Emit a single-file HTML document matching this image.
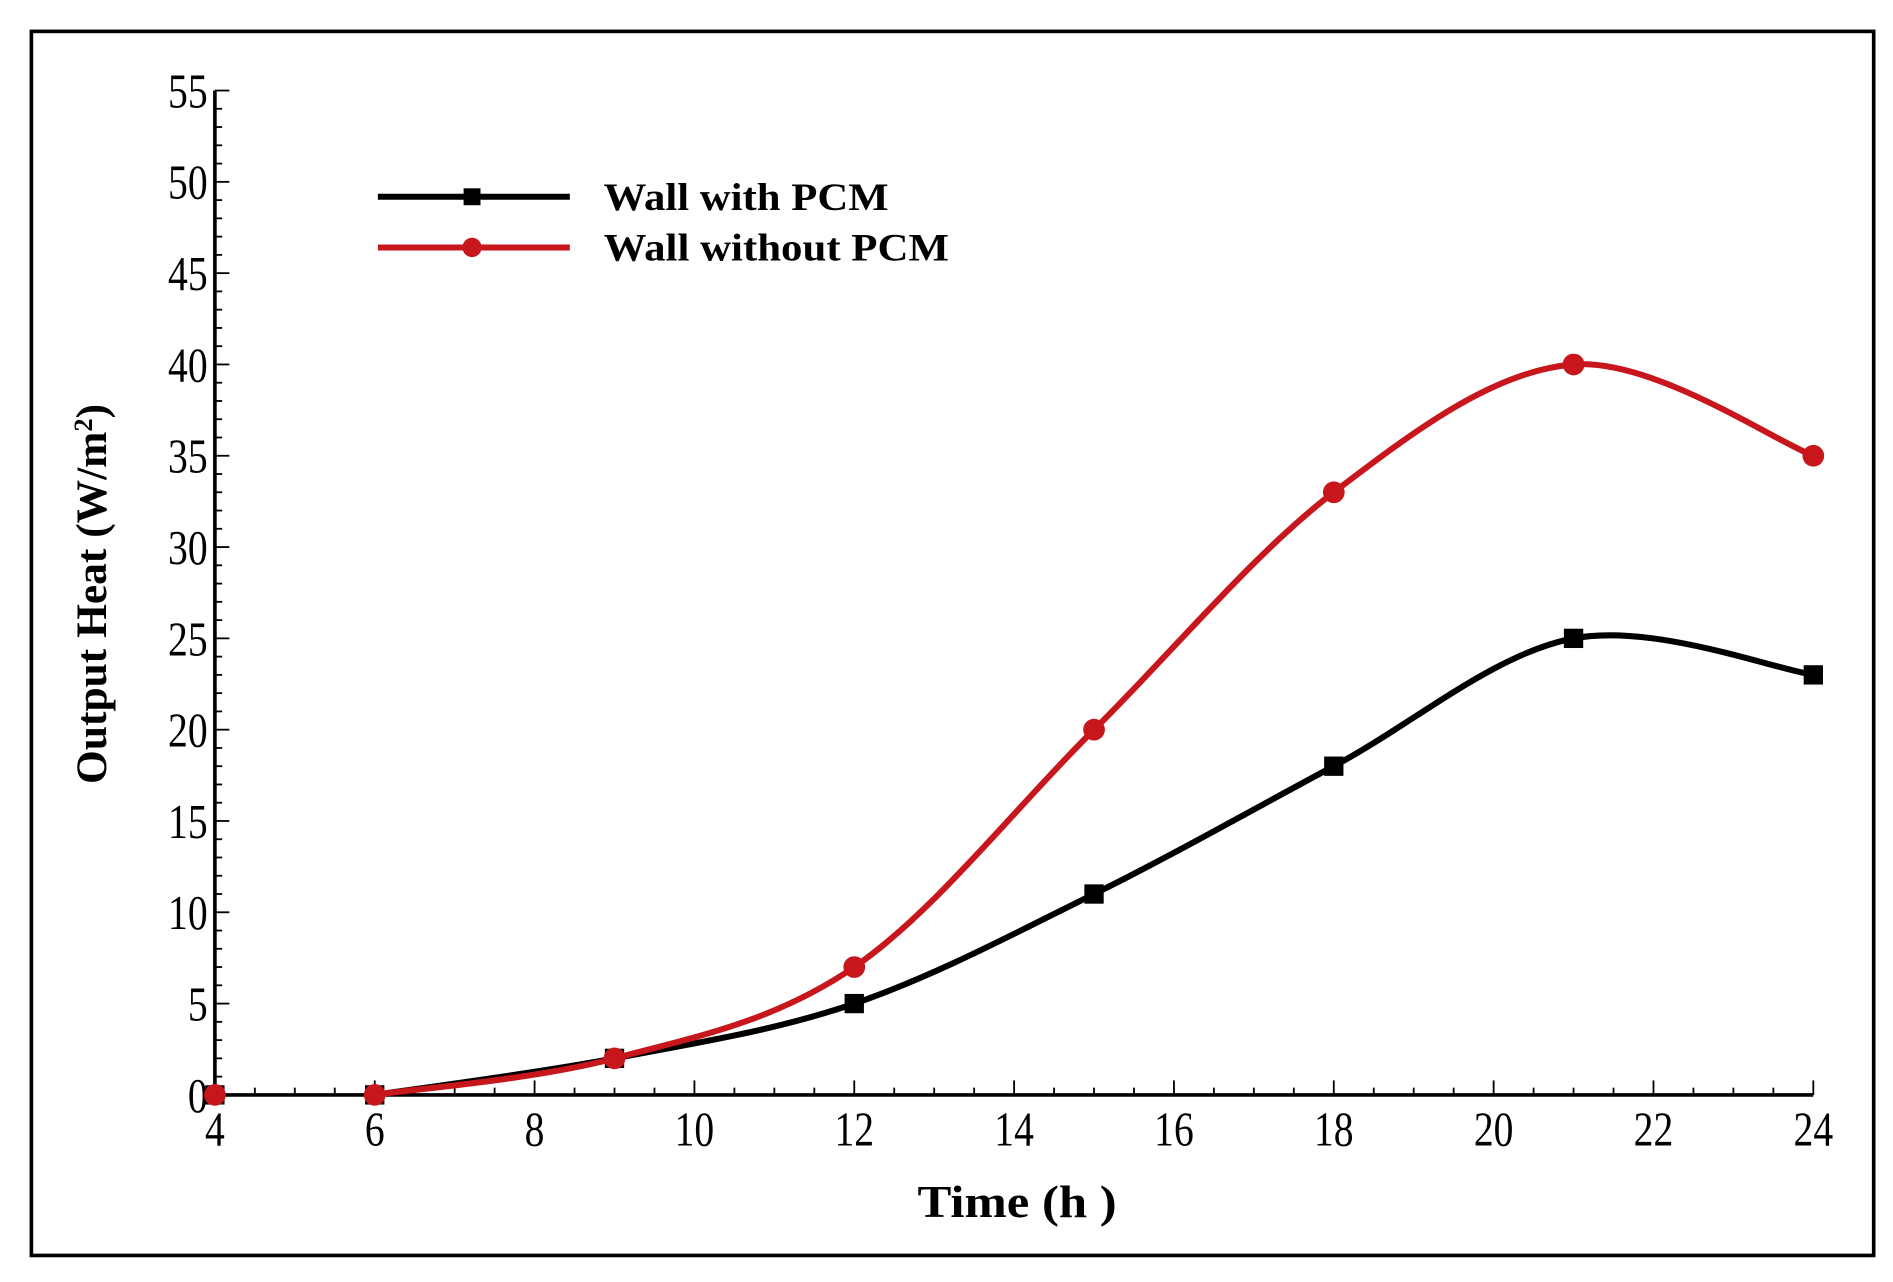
<!DOCTYPE html>
<html><head><meta charset="utf-8"><style>
html,body{margin:0;padding:0;background:#fff}
svg{display:block}
text{font-family:"Liberation Serif",serif}
</style></head><body>
<svg id="chart" width="1893" height="1282" viewBox="0 0 1568 1062" preserveAspectRatio="none">
<rect x="26" y="26" width="1526" height="1014" fill="#fff" stroke="#000" stroke-width="3"/>
<g id="axes"></g>
<g id="series"></g>
<text x="760" y="1008" font-size="38" font-weight="bold" textLength="165" lengthAdjust="spacingAndGlyphs">Time (h  )</text>
<text transform="translate(88,492) rotate(-90)" font-size="36" font-weight="bold" text-anchor="middle">Output Heat (W/m<tspan dy="-12" font-size="22">2</tspan><tspan dy="12">)</tspan></text>
<g>
<g>
<line x1="313" y1="163" x2="472" y2="163" stroke="#000" stroke-width="5"/>
<rect x="384" y="156" width="14" height="14" fill="#000"/>
<text x="500" y="174" font-size="32" font-weight="bold" textLength="236" lengthAdjust="spacingAndGlyphs">Wall with PCM</text>
</g>
<g>
<line x1="313" y1="205" x2="472" y2="205" stroke="#c8161d" stroke-width="5"/>
<circle cx="391" cy="205" r="8" fill="#c8161d"/>
<text x="500" y="216" font-size="32" font-weight="bold" textLength="286" lengthAdjust="spacingAndGlyphs">Wall without PCM</text>
</g>
</g>
</svg>
<script>
const hours = [4, 6, 9, 12, 15, 18, 21, 24];
const withPCM = [0, 0, 2, 5, 11, 18, 25, 23];
const withoutPCM = [0, 0, 2, 7, 20, 33, 40, 35];
const xTickLabels = [4, 6, 8, 10, 12, 14, 16, 18, 20, 22, 24];
const yTickLabels = [0, 5, 10, 15, 20, 25, 30, 35, 40, 45, 50, 55];

const NS = "http://www.w3.org/2000/svg";
const X0 = 178, X1 = 1502, Y0 = 907, Y1 = 75;
const xs = v => X0 + (v - 4) / 20 * (X1 - X0);
const ys = v => Y0 - v / 55 * (Y0 - Y1);
function mk(tag, attrs, parent) {
  const e = document.createElementNS(NS, tag);
  for (const k in attrs) e.setAttribute(k, attrs[k]);
  parent.appendChild(e);
  return e;
}
const axes = document.getElementById('axes');
const series = document.getElementById('series');

const xl = mk('line', {x1: X0, y1: Y0, x2: X1, y2: Y0, stroke: '#000', 'stroke-width': 3}, axes);


const yl = mk('line', {x1: X0, y1: Y0, x2: X0, y2: Y1, stroke: '#000', 'stroke-width': 3}, axes);



for (let v = 4; v <= 24.001; v += 0.5) {
  const major = Math.abs(v - Math.round(v / 2) * 2) < 1e-6;
  const t = mk('line', {x1: xs(v), y1: Y0, x2: xs(v), y2: Y0 - (major ? 12 : 6), stroke: '#000', 'stroke-width': 1.5}, axes);
  
  
}
xTickLabels.forEach(v => {
  const t = mk('text', {x: xs(v), y: Y0 + 42, 'font-size': 40, 'text-anchor': 'middle', transform: `translate(${xs(v)},0) scale(0.82,1) translate(${-xs(v)},0)`}, axes);
  t.textContent = v;
  
  
});
for (let v = 0; v <= 55; v += 1) {
  const major = v % 5 === 0;
  const t = mk('line', {x1: X0, y1: ys(v), x2: X0 + (major ? 12 : 6), y2: ys(v), stroke: '#000', 'stroke-width': 1.5}, axes);
  
  
}
yTickLabels.forEach(v => {
  const ax = X0 - 6;
  const t = mk('text', {x: ax, y: ys(v) + 14, 'font-size': 40, 'text-anchor': 'end', transform: `translate(${ax},0) scale(0.82,1) translate(${-ax},0)`}, axes);
  t.textContent = v;
  
  
});

function smooth(pts) {
  let d = `M${pts[0][0]},${pts[0][1]}`;
  for (let i = 0; i < pts.length - 1; i++) {
    const p0 = pts[i - 1] || pts[i], p1 = pts[i], p2 = pts[i + 1], p3 = pts[i + 2] || p2;
    const c1 = [p1[0] + (p2[0] - p0[0]) / 6, p1[1] + (p2[1] - p0[1]) / 6];
    const c2 = [p2[0] - (p3[0] - p1[0]) / 6, p2[1] - (p3[1] - p1[1]) / 6];
    d += ` C${c1[0]},${c1[1]} ${c2[0]},${c2[1]} ${p2[0]},${p2[1]}`;
  }
  return d;
}
function drawSeries(vals, color, shape, name) {
  const pts = hours.map((h, i) => [xs(h), ys(vals[i])]);
  const p = mk('path', {d: smooth(pts.slice(1)), fill: 'none', stroke: color, 'stroke-width': 5}, series);
  
  
  pts.forEach(([x, y]) => {
    let m;
    if (shape === 'square') m = mk('rect', {x: x - 8, y: y - 8, width: 16, height: 16, fill: color}, series);
    else m = mk('circle', {cx: x, cy: y, r: 9, fill: color}, series);
    
    
  });
}
drawSeries(withPCM, '#000', 'square', 'wall-with-pcm');
drawSeries(withoutPCM, '#c8161d', 'circle', 'wall-without-pcm');
</script>
</body></html>
